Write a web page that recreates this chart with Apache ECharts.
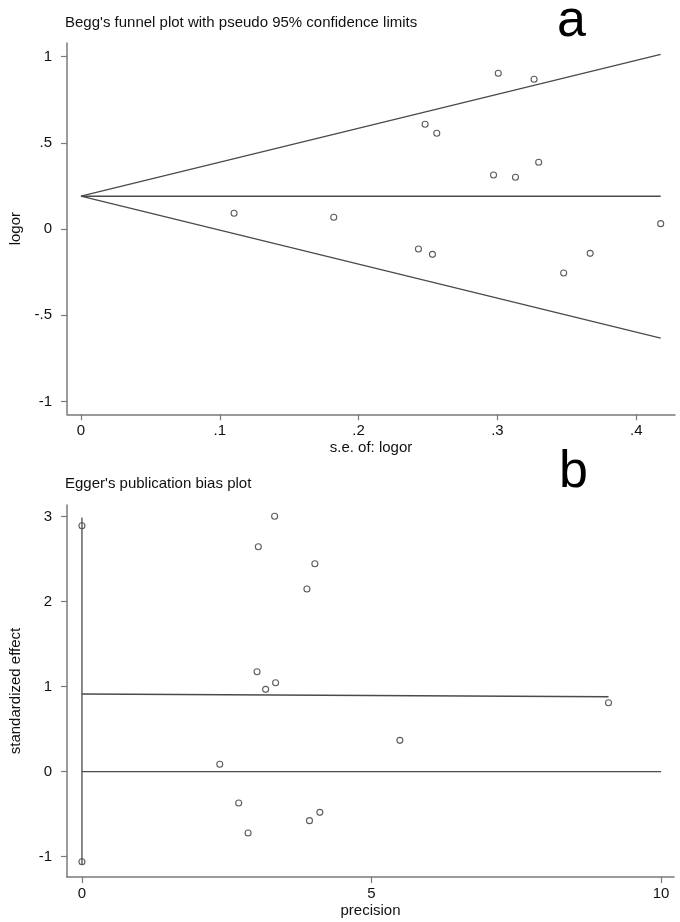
<!DOCTYPE html>
<html>
<head>
<meta charset="utf-8">
<script src="https://cdn.jsdelivr.net/npm/echarts@6/dist/echarts.min.js"></script>
<style>
html,body{margin:0;padding:0;background:#fff;}
#chart{width:680px;height:922px;}
</style>
</head>
<body>
<div id="chart"></div>
<script>
// Panel a: Begg's funnel plot
const beggSe    = [0.1103, 0.1821, 0.2431, 0.2479, 0.2532, 0.2563, 0.2972, 0.3006, 0.3130, 0.3264, 0.3297, 0.3477, 0.3668, 0.4176];
const beggLogor = [0.091, 0.068, -0.116, 0.607, -0.147, 0.555, 0.313, 0.903, 0.300, 0.868, 0.387, -0.255, -0.141, 0.031];
const funnelSe    = [0, 0.4176];
const funnelUpper = [0.19, 1.012];
const funnelLower = [0.19, -0.632];
const pooledLine  = [0.19, 0.19];
const beggXTicks = [0, 0.1, 0.2, 0.3, 0.4];
const beggXLabels = ['0', '.1', '.2', '.3', '.4'];
const beggYTicks = [-1, -0.5, 0, 0.5, 1];
const beggYLabels = ['-1', '-.5', '0', '.5', '1'];

// Panel b: Egger's publication bias plot
const eggerPrecision = [9.093, 5.49, 4.108, 4.022, 3.929, 3.885, 3.344, 3.327, 3.172, 3.046, 3.024, 2.869, 2.707, 2.380];
const eggerEffect    = [0.812, 0.369, -0.478, 2.447, -0.576, 2.149, 1.047, 3.005, 0.969, 2.647, 1.176, -0.721, -0.368, 0.087];
const ciMarkX = [0, 0];
const ciMarkY = [2.894, -1.06];
const ciLineX = [0, 0];
const ciLineY = [2.99, -1.09];
const regX = [0, 9.093];
const regY = [0.914, 0.882];
const zeroX = [0, 10];
const zeroY = [0, 0];
const eggerXTicks = [0, 5, 10];
const eggerXLabels = ['0', '5', '10'];
const eggerYTicks = [-1, 0, 1, 2, 3];
const eggerYLabels = ['-1', '0', '1', '2', '3'];

const FONT = '"Liberation Sans", Arial, sans-serif';
const AXC = '#7a7a7a';
const LINEC = '#4a4a4a';
const TXT = '#111';

function zip(a, b) { return a.map((v, i) => [v, b[i]]); }
function labMap(ticks, labels) {
  return function (v) {
    for (let i = 0; i < ticks.length; i++) if (Math.abs(ticks[i] - v) < 1e-9) return labels[i];
    return '';
  };
}

function xAxisDef(gridIndex, min, max, ticks, labels, name) {
  return {
    type: 'value', gridIndex, min, max,
    name, nameLocation: 'middle', nameGap: 26,
    nameTextStyle: { fontFamily: FONT, fontSize: 15, color: TXT },
    axisLine: { show: true, onZero: false, lineStyle: { color: AXC, width: 1.5 } },
    axisTick: { show: true, length: 6, customValues: ticks, lineStyle: { color: AXC, width: 1.2 } },
    axisLabel: { customValues: ticks, formatter: labMap(ticks, labels), margin: 9, fontFamily: FONT, fontSize: 15, color: TXT },
    splitLine: { show: false }
  };
}
function yAxisDef(gridIndex, min, max, ticks, labels, name) {
  return {
    type: 'value', gridIndex, min, max,
    name, nameLocation: 'middle', nameGap: 44, nameRotate: 90,
    nameTextStyle: { fontFamily: FONT, fontSize: 15, color: TXT },
    axisLine: { show: true, onZero: false, lineStyle: { color: AXC, width: 1.5 } },
    axisTick: { show: true, length: 6, customValues: ticks, lineStyle: { color: AXC, width: 1.2 } },
    axisLabel: { customValues: ticks, formatter: labMap(ticks, labels), margin: 15, fontFamily: FONT, fontSize: 15, color: TXT },
    splitLine: { show: false }
  };
}

function lineSeries(xi, yi, data) {
  return {
    type: 'line', xAxisIndex: xi, yAxisIndex: yi, data,
    symbol: 'none', silent: true, animation: false, clip: false,
    lineStyle: { color: LINEC, width: 1.3 }
  };
}
function scatterSeries(xi, yi, data) {
  return {
    type: 'scatter', xAxisIndex: xi, yAxisIndex: yi, data,
    symbol: 'circle', symbolSize: 6, animation: false,
    itemStyle: { color: '#fff', borderColor: '#333', borderWidth: 1.1 }
  };
}

const chart = echarts.init(document.getElementById('chart'), null, { renderer: 'canvas' });
chart.setOption({
  backgroundColor: '#fff',
  animation: false,
  grid: [
    { left: 65, top: 43, width: 610, height: 371.3 },
    { left: 65, top: 505, width: 609, height: 372 }
  ],
  xAxis: [
    xAxisDef(0, -0.01005, 0.4279, beggXTicks, beggXLabels, 's.e. of: logor'),
    xAxisDef(1, -0.2582, 10.224, eggerXTicks, eggerXLabels, 'precision')
  ],
  yAxis: [
    yAxisDef(0, -1.0742, 1.0783, beggYTicks, beggYLabels, 'logor'),
    yAxisDef(1, -1.2388, 3.1376, eggerYTicks, eggerYLabels, 'standardized effect')
  ],
  series: [
    lineSeries(0, 0, zip(funnelSe, funnelUpper)),
    lineSeries(0, 0, zip(funnelSe, funnelLower)),
    lineSeries(0, 0, zip(funnelSe, pooledLine)),
    scatterSeries(0, 0, zip(beggSe, beggLogor)),
    lineSeries(1, 1, zip(ciLineX, ciLineY)),
    lineSeries(1, 1, zip(regX, regY)),
    lineSeries(1, 1, zip(zeroX, zeroY)),
    scatterSeries(1, 1, zip(ciMarkX, ciMarkY)),
    scatterSeries(1, 1, zip(eggerPrecision, eggerEffect))
  ],
  graphic: [
    { type: 'text', left: 65, top: 15, style: { text: "Begg's funnel plot with pseudo 95% confidence limits", font: '15px ' + FONT, fill: TXT } },
    { type: 'text', left: 65, top: 476, style: { text: "Egger's publication bias plot", font: '15px ' + FONT, fill: TXT } },
    { type: 'text', left: 557, top: -4, style: { text: 'a', font: '52px ' + FONT, fill: '#000' } },
    { type: 'text', left: 559, top: 447, style: { text: 'b', font: '52px ' + FONT, fill: '#000' } }
  ]
});
</script>
</body>
</html>
